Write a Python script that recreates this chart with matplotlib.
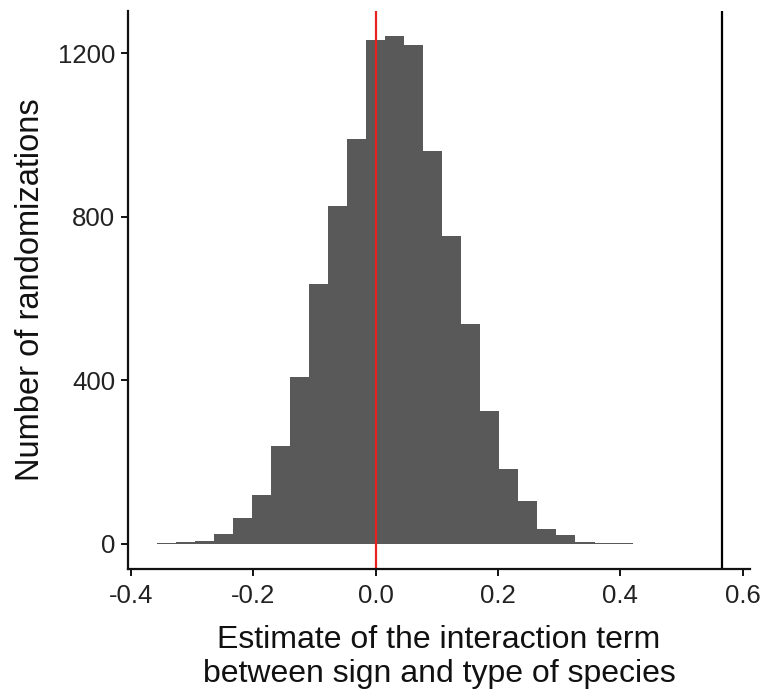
import numpy as np
import matplotlib
matplotlib.use("Agg")
import matplotlib.pyplot as plt

# histogram of randomization estimates (25 bins)
bin_edges = np.linspace(-0.358, 0.420, 26)
counts = [2, 3, 6, 24, 63, 119, 240, 407, 636, 826, 991, 1233, 1242,
          1220, 961, 753, 538, 326, 183, 105, 36, 22, 4, 2, 1]
null_value = 0.0
observed = 0.566

x_ticks = [-0.4, -0.2, 0.0, 0.2, 0.4, 0.6]
x_ticklabels = ["-0.4", "-0.2", "0.0", "0.2", "0.4", "0.6"]
y_ticks = [0, 400, 800, 1200]

plt.rcParams['font.family'] = ['Liberation Sans', 'DejaVu Sans']

fig = plt.figure(figsize=(7.65, 6.92), dpi=100)
ax = fig.add_axes([0.1673, 0.1777, 0.8131, 0.8064])

ax.stairs(counts, bin_edges, fill=True, color='#595959', linewidth=0)
ax.axvline(null_value, color='#e8221c', linewidth=1.6)
ax.axvline(observed, color='black', linewidth=1.6)

ax.set_xlim(-0.405, 0.612)
ax.set_ylim(-62, 1304)
ax.set_xticks(x_ticks)
ax.set_xticklabels(x_ticklabels)
ax.set_yticks(y_ticks)

for s in ['top', 'right']:
    ax.spines[s].set_visible(False)
for s in ['left', 'bottom']:
    ax.spines[s].set_linewidth(1.6)
    ax.spines[s].set_color('#111111')

ax.tick_params(axis='both', length=5, width=1.4, color='#111111',
               labelsize=18.5, labelcolor='#222222')
ax.tick_params(axis='x', pad=6)
ax.tick_params(axis='y', pad=4)

ax.set_xlabel("Estimate of the interaction term\nbetween sign and type of species",
              fontsize=23, color='#111111', labelpad=12, linespacing=1.18)
ax.set_ylabel("Number of randomizations", fontsize=23.5, color='#111111', labelpad=9)

fig.savefig("out.png", dpi=100)
